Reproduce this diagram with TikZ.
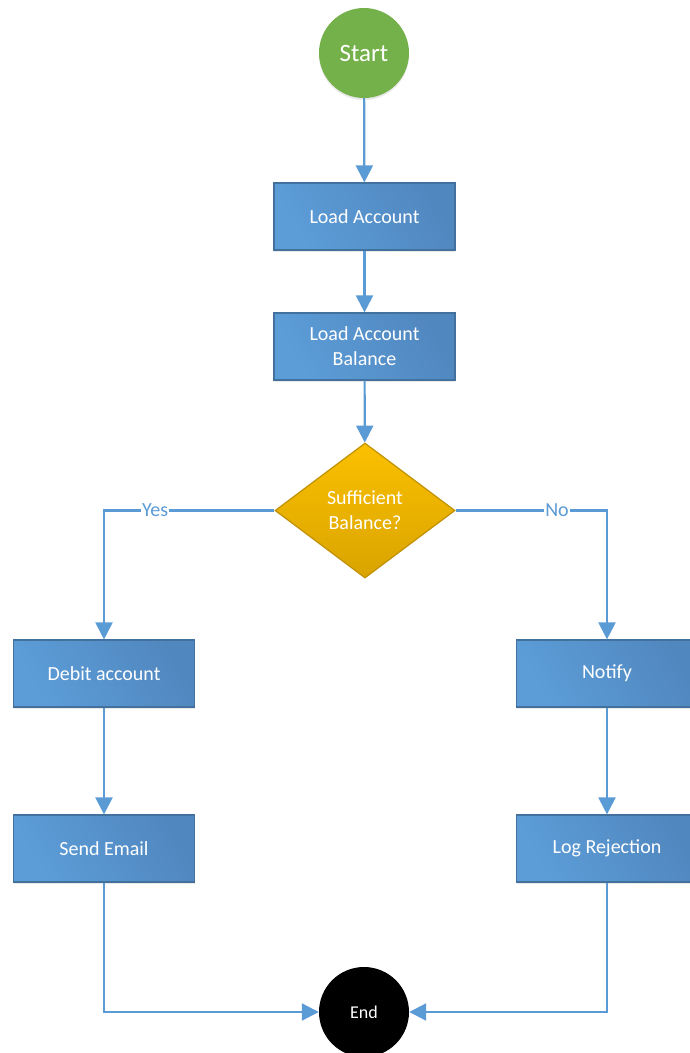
\documentclass[tikz,border=0pt]{standalone}
\usepackage{fontspec}
\setmainfont{Carlito}
\usetikzlibrary{shapes.geometric,arrows.meta,shadows}

\definecolor{flowblue}{HTML}{5B9BD5}
\definecolor{boxlight}{HTML}{5C9DD8}
\definecolor{boxdark}{HTML}{5187BF}
\definecolor{boxedge}{HTML}{41719C}
\definecolor{startgreen}{HTML}{74B14A}
\definecolor{decgold}{HTML}{FBC000}
\definecolor{decdark}{HTML}{D9A400}
\definecolor{decedge}{HTML}{BF9000}

\tikzset{
  process/.style={rectangle, draw=boxedge, line width=1.2pt,
    left color=boxlight, right color=boxdark, shading angle=120,
    minimum width=181pt, minimum height=67pt, inner sep=0pt,
    text=white, align=center, font=\fontsize{20}{25}\selectfont,
    drop shadow={opacity=0.18, shadow xshift=0pt, shadow yshift=-2pt}},
  decision/.style={diamond, draw=decedge, line width=1.2pt,
    top color=decgold, bottom color=decdark,
    minimum width=180pt, minimum height=135pt, inner sep=0pt,
    text=white, align=center, font=\fontsize{20}{25}\selectfont},
  terminal/.style={circle, minimum size=90pt, inner sep=0pt, text=white},
  flow/.style={draw=flowblue, line width=2.2pt,
    -{Triangle[length=17pt,width=17pt]}},
  answer/.style={fill=white, inner sep=1pt, text=flowblue,
    font=\fontsize{20}{22}\selectfont}
}

\begin{document}
\begin{tikzpicture}[x=1pt,y=-1pt]
\useasboundingbox (0,0) rectangle (689,1053);

% nodes
\node[terminal, fill=startgreen, font=\fontsize{25}{28}\selectfont,
  drop shadow={opacity=0.18, shadow xshift=0pt, shadow yshift=-2pt}]
  (start) at (364,53) {Start};
\node[process] (load) at (364.5,216.5) {Load Account};
\node[process] (balance) at (364.5,346.5) {Load Account\\Balance};
\node[decision] (check) at (365,510.5) {Sufficient\\Balance?};
\node[process] (debit) at (104,673.5) {Debit account};
\node[process] (email) at (104,848.5) {Send Email};
\node[process] (notify) at (607,673.5) {Notify};
\node[process] (reject) at (607,848.5) {Log Rejection};
\node[terminal, fill=black, font=\fontsize{18}{22}\selectfont]
  (end) at (364,1012) {End};

% connectors
\draw[flow] (start) -- (load);
\draw[flow] (load) -- (balance);
\draw[flow] (balance) -- (check);
\draw[flow] (check.west) -| node[answer, pos=0.35] {Yes} (debit.north);
\draw[flow] (check.east) -| node[answer, pos=0.335] {No} (notify.north);
\draw[flow] (debit) -- (email);
\draw[flow] (notify) -- (reject);
\draw[flow] (email.south) |- (end.west);
\draw[flow] (reject.south) |- (end.east);
\end{tikzpicture}
\end{document}
